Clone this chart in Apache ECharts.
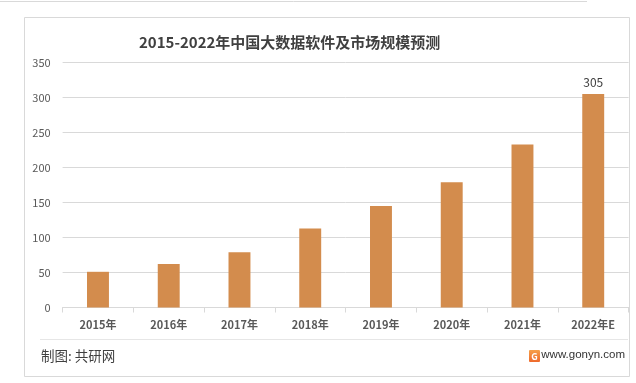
<!DOCTYPE html>
<html><head><meta charset="utf-8">
<script src="https://cdn.jsdelivr.net/npm/echarts@6/dist/echarts.min.js"></script>
<style>html,body{margin:0;padding:0;background:#fff}#c{width:636px;height:383px}</style>
</head><body><div id="c"></div>
<script>
var categories = ['2015年','2016年','2017年','2018年','2019年','2020年','2021年','2022年E'];
var values = [51, 62, 79, 113, 145, 179, 233, 305];
var yTicks = {min: 0, max: 350, interval: 50};
var titleText = '2015-2022年中国大数据软件及市场规模预测';
var sourceText = '制图: 共研网';
var siteText = 'www.gonyn.com';

var FONT = '"Noto Sans CJK SC", "Microsoft YaHei", sans-serif';
var chart = echarts.init(document.getElementById('c'), null, {renderer: 'canvas'});
chart.setOption({
  animation: false,
  backgroundColor: '#fff',
  textStyle: {fontFamily: FONT},
  title: {
    text: titleText, left: 134, top: 30,
    textStyle: {fontSize: 15, fontWeight: 'bold', color: '#404040', fontFamily: FONT}
  },
  grid: {left: 62.6, right: 7.4, top: 62.5, bottom: 75.5},
  xAxis: {
    type: 'category', data: categories,
    axisLine: {lineStyle: {color: '#d9d9d9', width: 1}},
    axisTick: {show: true, length: 5, lineStyle: {color: '#d9d9d9'}},
    axisLabel: {color: '#595959', fontSize: 11, fontWeight: 'bold', margin: 12, fontFamily: FONT}
  },
  yAxis: {
    type: 'value', min: yTicks.min, max: yTicks.max, interval: yTicks.interval,
    axisLine: {show: false}, axisTick: {show: false},
    splitLine: {lineStyle: {color: '#d9d9d9', width: 1}},
    axisLabel: {color: '#595959', fontSize: 11, margin: 12, fontFamily: FONT}
  },
  series: [{
    type: 'bar', data: values.map(function(v, i){
      return i === values.length - 1 ? {value: v, label: {show: true}} : v;
    }),
    barWidth: '31%',
    itemStyle: {color: '#d38c4d'},
    label: {show: false, position: 'top', distance: 6, color: '#404040', fontSize: 12, fontFamily: FONT}
  }],
  graphic: [
    {type: 'line', shape: {x1: 0, y1: 1.5, x2: 587, y2: 1.5}, style: {stroke: '#d9d9d9', lineWidth: 1}, silent: true},
    {type: 'rect', shape: {x: 24.5, y: 17.5, width: 605, height: 359}, style: {fill: 'none', stroke: '#d9d9d9', lineWidth: 1}, silent: true},
    {type: 'line', shape: {x1: 40, y1: 339.5, x2: 628, y2: 339.5}, style: {stroke: '#e6e6e6', lineWidth: 1}, silent: true},
    {type: 'text', x: 41, y: 356, style: {text: sourceText, fill: '#404040', font: '13.5px ' + FONT, textVerticalAlign: 'middle'}},
    {type: 'rect', shape: {x: 529, y: 350, width: 11, height: 12, r: 1},
      style: {fill: new echarts.graphic.LinearGradient(0, 0, 0, 1, [{offset: 0, color: '#f6a04a'}, {offset: 1, color: '#ee6a2c'}])}},
    {type: 'text', x: 534.5, y: 356.5, style: {text: 'G', fill: '#fff', font: 'bold 9px ' + FONT, textAlign: 'center', textVerticalAlign: 'middle'}},
    {type: 'text', x: 625, y: 355, style: {text: siteText, fill: '#333', font: '11.5px "Liberation Sans", Arial, sans-serif', textAlign: 'right', textVerticalAlign: 'middle'}}
  ]
});
</script></body></html>
